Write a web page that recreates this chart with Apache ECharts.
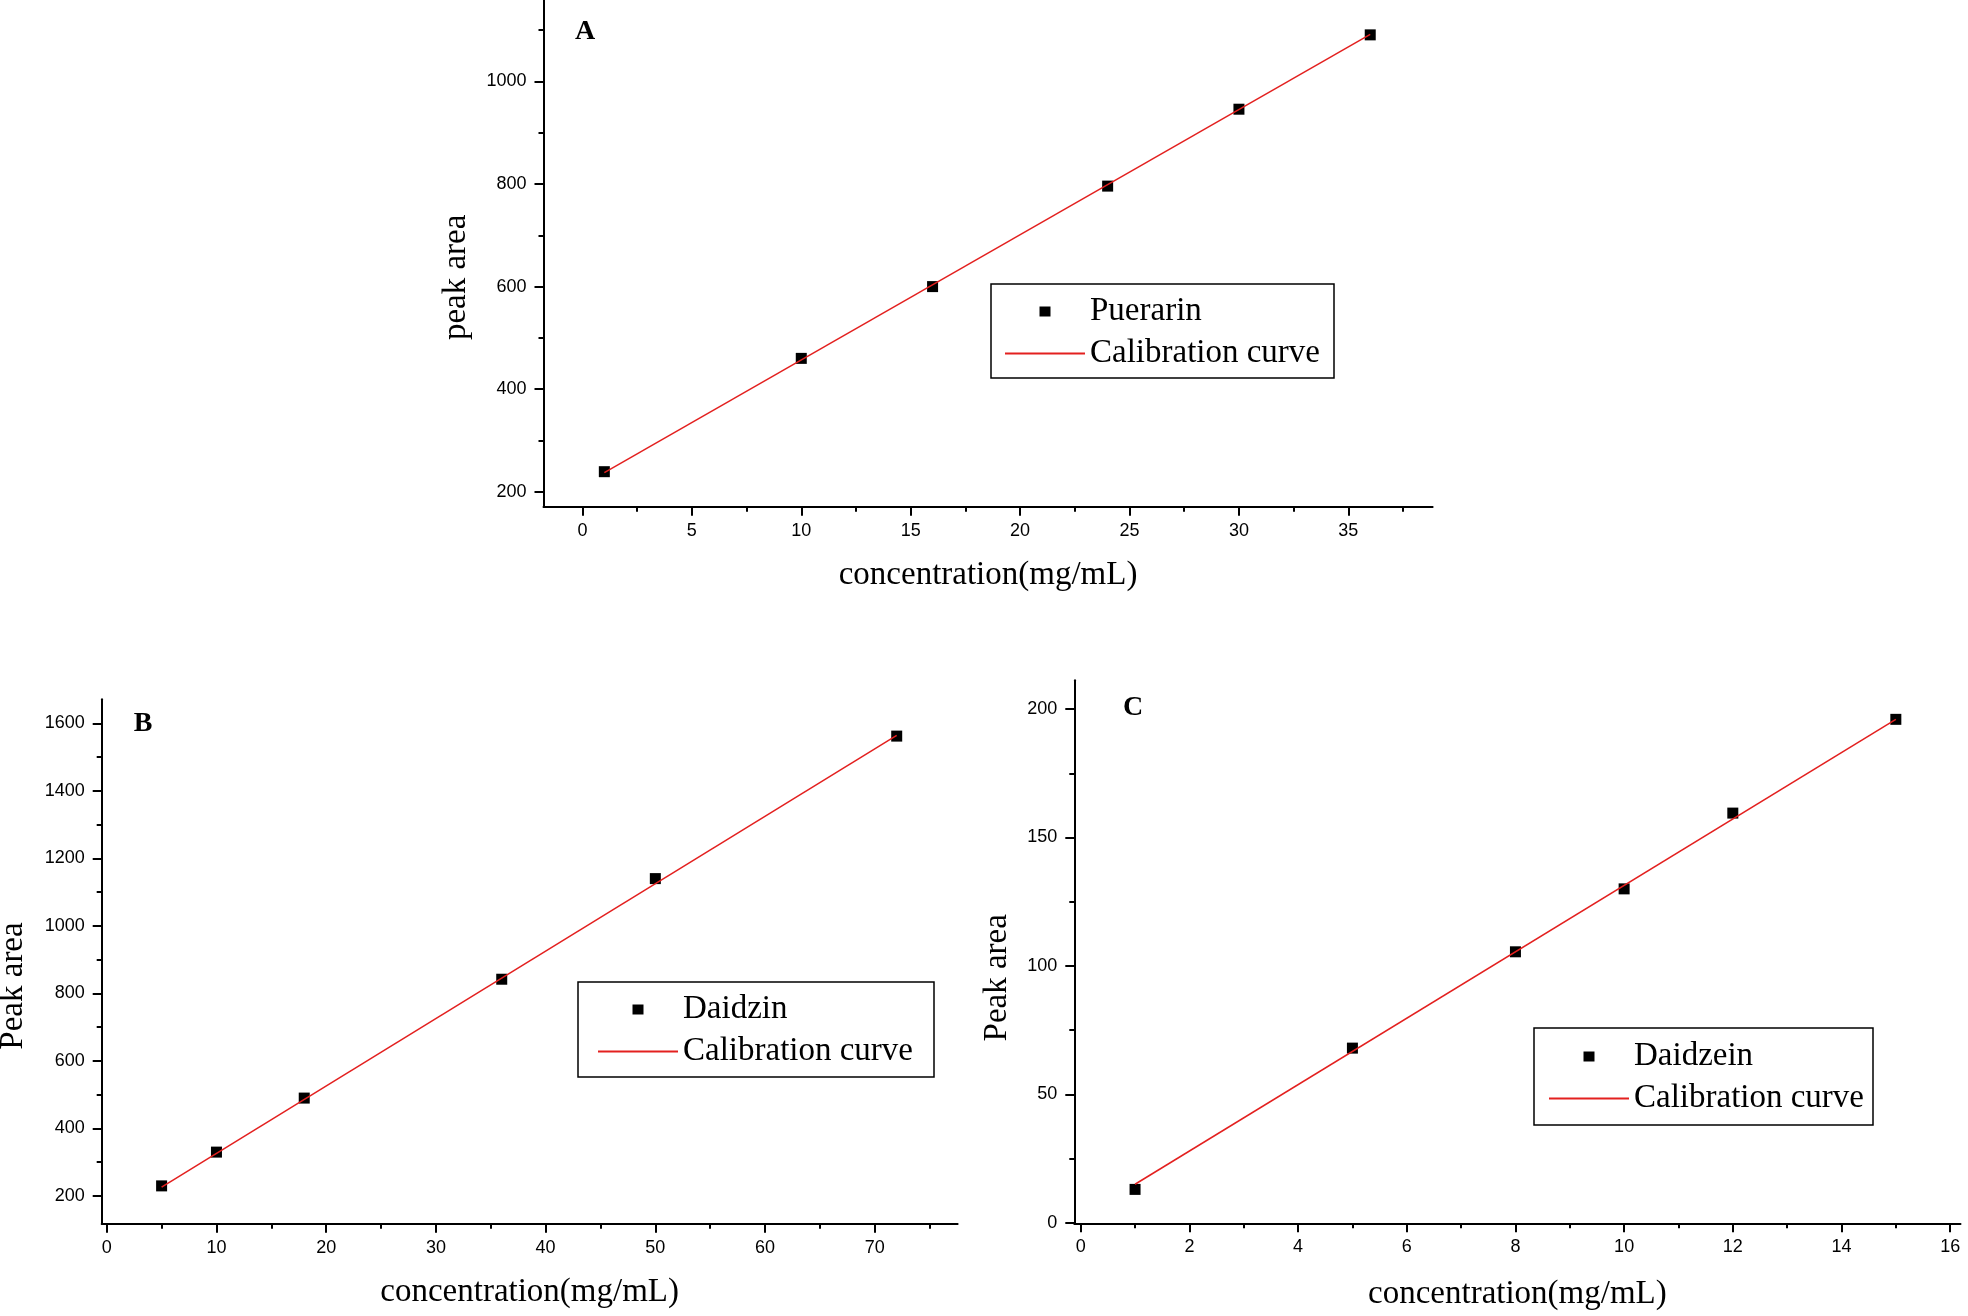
<!DOCTYPE html>
<html><head><meta charset="utf-8">
<script src="https://cdn.jsdelivr.net/npm/echarts@6/dist/echarts.min.js"></script>
<style>html,body{margin:0;padding:0;background:#fff}#c{width:1968px;height:1316px}</style>
</head><body><div id="c"></div><script>
// ---- Panel A : Puerarin ----
const concA = [1, 10, 16, 24, 30, 36];
const areaA = [239, 460, 600, 796, 946, 1091];
const fitConcA = [1, 36];
const fitAreaA = [237, 1092];
const xMajorA = [0, 5, 10, 15, 20, 25, 30, 35];
const xMinorA = [2.5, 7.5, 12.5, 17.5, 22.5, 27.5, 32.5, 37.5];
const yMajorA = [200, 400, 600, 800, 1000];
const yMinorA = [300, 500, 700, 900, 1100];

// ---- Panel B : Daidzin ----
const concB = [5, 10, 18, 36, 50, 72];
const areaB = [230, 330, 490, 842, 1140, 1562];
const fitConcB = [5, 72];
const fitAreaB = [226, 1564];
const xMajorB = [0, 10, 20, 30, 40, 50, 60, 70];
const xMinorB = [5, 15, 25, 35, 45, 55, 65, 75];
const yMajorB = [200, 400, 600, 800, 1000, 1200, 1400, 1600];
const yMinorB = [300, 500, 700, 900, 1100, 1300, 1500];

// ---- Panel C : Daidzein ----
const concC = [1, 5, 8, 10, 12, 15];
const areaC = [13, 68, 105.5, 130, 159.5, 196];
const fitConcC = [1, 15];
const fitAreaC = [15, 196];
const xMajorC = [0, 2, 4, 6, 8, 10, 12, 14, 16];
const xMinorC = [1, 3, 5, 7, 9, 11, 13, 15];
const yMajorC = [0, 50, 100, 150, 200];
const yMinorC = [25, 75, 125, 175];

const xTitle = 'concentration(mg/mL)';
const fitName = 'Calibration curve';

const zip = (a, b) => a.map((v, i) => [v, b[i]]);
const SERIF = '"Liberation Serif", "DejaVu Serif", serif';
const SANS = '"Liberation Sans", Arial, sans-serif';
const RED = '#e3201f';
// square legend marker centred in an 80x10 icon box
const SQUARE_ICON = 'path://M0 0M80 10M34.5 0L45.5 0L45.5 10L34.5 10Z';

const panels = [
  { grid: {left: 543.5, right: 535.4, top: 0, bottom: 809.3},
    xr: [-1.78, 38.85], yr: [170.7, 1159],
    xMaj: xMajorA, xMin: xMinorA, yMaj: yMajorA, yMin: yMinorA,
    yName: 'peak area', yGap: 71, yPad: 48, xGap: 52,
    name: 'Puerarin', cx: concA, cy: areaA, fx: fitConcA, fy: fitAreaA,
    legend: {left: 991, top: 284, padding: [11, 14, 8, 13]},
    letter: {t: 'A', x: 585, y: 32} },
  { grid: {left: 101.7, right: 1010.4, top: 699.3, bottom: 92.3},
    xr: [-0.46, 77.55], yr: [118, 1671],
    xMaj: xMajorB, xMin: xMinorB, yMaj: yMajorB, yMin: yMinorB,
    yName: 'Peak area', yGap: 72, yPad: 49, xGap: 52,
    name: 'Daidzin', cx: concB, cy: areaB, fx: fitConcB, fy: fitAreaB,
    legend: {left: 578, top: 982, padding: [11, 21, 9, 19]},
    letter: {t: 'B', x: 143, y: 724} },
  { grid: {left: 1074.3, right: 7.5, top: 680.3, bottom: 92.7},
    xr: [-0.118, 16.19], yr: [-0.2, 211.2],
    xMaj: xMajorC, xMin: xMinorC, yMaj: yMajorC, yMin: yMinorC,
    yName: 'Peak area', yGap: 60, yPad: 52, xGap: 55,
    name: 'Daidzein', cx: concC, cy: areaC, fx: fitConcC, fy: fitAreaC,
    legend: {left: 1534, top: 1028, padding: [12, 9, 10, 14]},
    letter: {t: 'C', x: 1133, y: 708} }
];

const axisLineStyle = {color: '#000', width: 2};
const labelStyle = {fontSize: 18, fontFamily: SANS, color: '#000', formatter: v => String(v)};
const titleStyle = {fontSize: 33, fontFamily: SERIF, color: '#000'};

const option = {
  animation: false,
  backgroundColor: '#fff',
  grid: [], xAxis: [], yAxis: [], series: [], legend: [], graphic: []
};

panels.forEach((p, i) => {
  option.grid.push(Object.assign({containLabel: false, outerBoundsMode: 'none'}, p.grid));
  option.xAxis.push({
    type: 'value', gridIndex: i, position: 'bottom', min: p.xr[0], max: p.xr[1],
    axisLine: {show: true, onZero: false, lineStyle: axisLineStyle},
    axisTick: {show: true, inside: false, length: 9, lineStyle: axisLineStyle, customValues: p.xMaj},
    axisLabel: Object.assign({show: true, margin: 15, customValues: p.xMaj}, labelStyle),
    splitLine: {show: false},
    name: xTitle, nameLocation: 'middle', nameGap: p.xGap, nameTextStyle: titleStyle
  });
  option.xAxis.push({
    type: 'value', gridIndex: i, position: 'bottom', min: p.xr[0], max: p.xr[1],
    axisLine: {show: false, onZero: false},
    axisTick: {show: true, inside: false, length: 5, lineStyle: axisLineStyle, customValues: p.xMin},
    axisLabel: {show: false}, splitLine: {show: false}
  });
  option.yAxis.push({
    type: 'value', gridIndex: i, position: 'left', min: p.yr[0], max: p.yr[1],
    axisLine: {show: true, onZero: false, lineStyle: axisLineStyle},
    axisTick: {show: true, inside: false, length: 9, lineStyle: axisLineStyle, customValues: p.yMaj},
    axisLabel: Object.assign({show: true, margin: 17, customValues: p.yMaj}, labelStyle),
    splitLine: {show: false},
    name: p.yName, nameLocation: 'middle', nameGap: p.yGap,
    nameTextStyle: Object.assign({padding: [0, p.yPad, 0, 0]}, titleStyle)
  });
  option.yAxis.push({
    type: 'value', gridIndex: i, position: 'left', min: p.yr[0], max: p.yr[1],
    axisLine: {show: false, onZero: false},
    axisTick: {show: true, inside: false, length: 5, lineStyle: axisLineStyle, customValues: p.yMin},
    axisLabel: {show: false}, splitLine: {show: false}
  });
  option.series.push({
    type: 'scatter', name: p.name, xAxisIndex: 2 * i, yAxisIndex: 2 * i,
    data: zip(p.cx, p.cy), symbol: 'rect', symbolSize: 11,
    itemStyle: {color: '#000', opacity: 1}, z: 2
  });
  option.series.push({
    type: 'line', name: fitName, xAxisIndex: 2 * i, yAxisIndex: 2 * i,
    data: zip(p.fx, p.fy), symbol: 'none', showSymbol: false,
    lineStyle: {color: RED, width: 1.5}, itemStyle: {color: RED}, z: 3
  });
  option.legend.push({
    data: [
      {name: p.name, icon: SQUARE_ICON, itemStyle: {color: '#000', opacity: 1}},
      {name: fitName, itemStyle: {color: 'rgba(0,0,0,0)', borderWidth: 0, opacity: 0}}
    ],
    orient: 'vertical',
    left: p.legend.left, top: p.legend.top, padding: p.legend.padding,
    itemWidth: 80, itemHeight: 10, itemGap: 9,
    borderColor: '#000', borderWidth: 1.5, backgroundColor: '#fff',
    textStyle: {fontSize: 33, fontFamily: SERIF, color: '#000'},
    selectedMode: false
  });
  option.graphic.push({
    type: 'text', x: p.letter.x, y: p.letter.y, z: 10,
    style: {text: p.letter.t, fontSize: 28, fontWeight: 'bold', fontFamily: SERIF,
            fill: '#000', align: 'center', verticalAlign: 'middle'}
  });
});

const chart = echarts.init(document.getElementById('c'), null, {renderer: 'canvas'});
chart.setOption(option);
</script></body></html>
